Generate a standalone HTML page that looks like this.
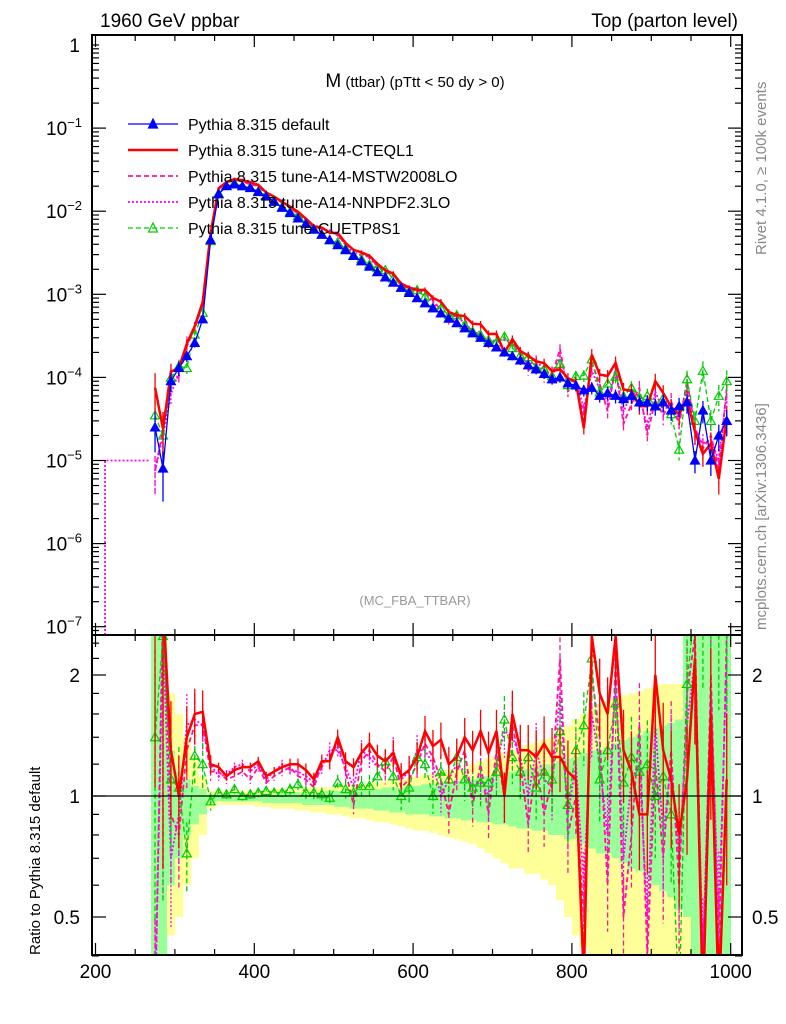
<!DOCTYPE html>
<html><head><meta charset="utf-8">
<style>
html,body{margin:0;padding:0;background:#fff;overflow:hidden;width:786px;height:1024px;}
svg{display:block;}
svg text{font-family:"Liberation Sans",sans-serif;}
</style></head>
<body>
<svg id="c" width="786" height="1024" xmlns="http://www.w3.org/2000/svg">
<defs>
<clipPath id="cm"><rect x="92" y="35" width="650" height="600"/></clipPath>
<clipPath id="cr"><rect x="92" y="636" width="650" height="319"/></clipPath>
</defs>
<g id="bands" clip-path="url(#cr)"></g>
<g id="main" clip-path="url(#cm)"></g>
<g id="ratio" clip-path="url(#cr)"></g>
<g id="axes"></g>
<text x="100" y="27" font-size="19">1960 GeV ppbar</text>
<text x="738" y="27" font-size="19" text-anchor="end">Top (parton level)</text>
<text x="415" y="87" font-size="19" text-anchor="middle">M<tspan font-size="15"> (ttbar) (pTtt &lt; 50 dy &gt; 0)</tspan></text>
<text x="415" y="605" font-size="13" fill="#999" text-anchor="middle">(MC_FBA_TTBAR)</text>
<text transform="translate(766,255) rotate(-90)" font-size="15" fill="#888">Rivet 4.1.0, ≥ 100k events</text>
<text transform="translate(766,630) rotate(-90)" font-size="15" fill="#888">mcplots.cern.ch [arXiv:1306.3436]</text>
<text transform="translate(40,955) rotate(-90)" font-size="15">Ratio to Pythia 8.315 default</text>
<g id="legend"></g>
</svg>
<script>
const bins=[275,285,295,305,315,325,335,345,355,365,375,385,395,405,415,425,435,445,455,465,475,485,495,505,515,525,535,545,555,565,575,585,595,605,615,625,635,645,655,665,675,685,695,705,715,725,735,745,755,765,775,785,795,805,815,825,835,845,855,865,875,885,895,905,915,925,935,945,955,965,975,985,995];
const defaultVals=[2.5e-5,8e-6,9e-5,1.3e-4,1.8e-4,2.6e-4,5e-4,4.5e-3,1.6e-2,2.0e-2,2.1e-2,2.0e-2,1.9e-2,1.7e-2,1.5e-2,1.3e-2,1.1e-2,9.5e-3,8.2e-3,7e-3,6e-3,5.2e-3,4.5e-3,3.9e-3,3.4e-3,2.9e-3,2.5e-3,2.15e-3,1.85e-3,1.6e-3,1.38e-3,1.2e-3,1.04e-3,9e-4,7.8e-4,6.8e-4,5.9e-4,5.1e-4,4.5e-4,3.9e-4,3.4e-4,3.0e-4,2.6e-4,2.3e-4,2.0e-4,1.8e-4,1.6e-4,1.4e-4,1.25e-4,1.1e-4,9.5e-5,1.0e-4,8.5e-5,8e-5,7e-5,7.5e-5,6e-5,6.5e-5,6e-5,5.5e-5,6e-5,5e-5,5e-5,4.5e-5,5e-5,4e-5,4.5e-5,5e-5,1e-5,4e-5,1e-5,2e-5,3e-5];
const ratioRed=[3,3,1.3,1.0,1.4,1.6,1.62,1.2,1.18,1.12,1.16,1.18,1.18,1.22,1.12,1.15,1.18,1.2,1.2,1.16,1.1,1.22,1.22,1.4,1.22,1.18,1.28,1.35,1.26,1.22,1.28,1.12,1.16,1.25,1.45,1.33,1.38,1.2,1.25,1.4,1.3,1.45,1.28,1.45,1.0,1.6,1.3,1.3,1.25,1.35,1.25,1.25,1.15,1.1,0.35,2.5,1.8,1.6,2.5,1.3,1.15,0.9,0.9,2.0,1.3,1.1,0.8,1.1,2.2,0.3,1.6,0.3,1.1];
const ratioMstw=[0.3,3,0.9,0.8,1.3,1.5,1.5,1.15,1.15,1.1,1.12,1.15,1.1,1.18,1.08,1.12,1.15,1.18,1.12,1.1,1.05,1.2,1.25,1.35,1.15,0.95,1.22,1.3,1.2,1.15,1.25,1.05,1.1,1.2,1.35,1.25,1.1,0.9,1.15,1.3,0.95,1.2,0.9,1.3,1.0,1.5,1.2,0.85,1.2,0.9,1.1,2.2,0.8,1.0,0.5,2.0,1.4,0.6,2.2,0.5,0.8,1.5,0.4,1.2,0.7,1.3,0.6,1.8,2.5,0.35,2.0,0.4,2.5];
const ratioNnpdf=[0.3,2.5,0.7,0.9,1.5,1.55,1.5,1.2,1.12,1.13,1.18,1.2,1.15,1.2,1.1,1.15,1.2,1.16,1.15,1.12,1.08,1.18,1.3,1.3,1.18,1.05,1.3,1.25,1.18,1.2,1.3,1.1,1.15,1.3,1.3,1.2,1.0,1.1,1.2,1.15,1.05,1.1,1.0,1.2,1.45,1.4,1.25,1.0,1.3,1.1,1.05,1.8,0.9,1.2,0.6,1.6,1.2,0.8,2.0,0.7,1.1,1.2,0.5,1.5,0.8,1.2,0.7,1.5,2.2,0.4,1.8,0.5,2.2];
const ratioGreen=[1.4,2.5,1.1,1.05,0.72,1.26,1.2,0.97,1.02,1.01,1.04,1.0,1.01,1.02,1.03,1.02,1.02,1.04,1.07,1.02,1.02,1.01,0.99,1.08,1.04,1.02,1.06,1.06,1.12,1.22,1.12,1.0,1.05,1.25,1.2,1.0,1.15,1.1,1.25,1.1,1.05,1.08,1.08,1.15,1.55,1.25,1.15,1.25,1.05,1.15,1.1,1.45,0.95,1.3,1.5,2.2,1.1,1.3,1.7,1.08,1.25,1.15,1.2,1.0,1.12,0.9,0.3,1.9,3,3,3,3,3];
const relErr=[0.5,0.6,0.25,0.2,0.15,0.12,0.1,0.04,0.02,0.02,0.02,0.02,0.02,0.02,0.02,0.02,0.02,0.025,0.025,0.03,0.03,0.03,0.035,0.035,0.04,0.04,0.045,0.05,0.05,0.055,0.06,0.06,0.065,0.07,0.07,0.075,0.08,0.08,0.085,0.09,0.09,0.1,0.1,0.1,0.11,0.11,0.12,0.12,0.13,0.13,0.14,0.14,0.15,0.15,0.16,0.17,0.17,0.18,0.19,0.2,0.2,0.21,0.22,0.23,0.24,0.25,0.26,0.27,0.3,0.3,0.35,0.35,0.35];
const greenLo=[0.3,0.3,0.6,0.7,0.8,0.85,0.9,0.96,0.97,0.97,0.97,0.97,0.97,0.97,0.96,0.96,0.96,0.96,0.96,0.95,0.95,0.95,0.95,0.94,0.94,0.93,0.93,0.93,0.92,0.92,0.91,0.91,0.9,0.9,0.9,0.89,0.89,0.88,0.88,0.87,0.87,0.86,0.86,0.85,0.85,0.84,0.83,0.83,0.82,0.82,0.8,0.8,0.78,0.78,0.76,0.74,0.72,0.72,0.7,0.68,0.66,0.65,0.62,0.6,0.58,0.56,0.52,0.5,0.3,0.3,0.3,0.3,0.3];
const greenHi=[2.6,2.6,1.3,1.15,1.1,1.06,1.04,1.01,1.01,1.01,1.01,1.01,1.01,1.01,1.01,1.01,1.02,1.02,1.02,1.02,1.02,1.02,1.03,1.03,1.03,1.03,1.04,1.04,1.04,1.05,1.05,1.05,1.06,1.06,1.07,1.07,1.08,1.08,1.09,1.1,1.1,1.12,1.12,1.13,1.14,1.15,1.16,1.17,1.18,1.2,1.2,1.22,1.24,1.25,1.28,1.3,1.3,1.32,1.35,1.38,1.4,1.42,1.45,1.48,1.5,1.52,1.55,2.6,2.6,2.6,2.6,2.6,2.6];
const yellowLo=[0.3,0.3,0.45,0.5,0.6,0.7,0.8,0.93,0.95,0.95,0.95,0.95,0.95,0.94,0.94,0.93,0.93,0.93,0.92,0.92,0.91,0.91,0.9,0.9,0.89,0.88,0.88,0.87,0.86,0.86,0.85,0.84,0.83,0.82,0.82,0.81,0.8,0.79,0.78,0.77,0.76,0.74,0.72,0.7,0.68,0.66,0.66,0.64,0.64,0.62,0.6,0.55,0.5,0.45,0.42,0.4,0.38,0.36,0.34,0.32,0.3,0.3,0.3,0.3,0.3,0.3,0.3,0.3,0.3,0.3,0.3,0.3,0.3];
const yellowHi=[2.6,2.6,1.8,1.6,1.4,1.25,1.12,1.03,1.03,1.03,1.03,1.03,1.03,1.03,1.03,1.04,1.04,1.04,1.04,1.05,1.05,1.05,1.05,1.06,1.06,1.07,1.07,1.08,1.08,1.09,1.1,1.1,1.11,1.12,1.13,1.14,1.15,1.16,1.17,1.18,1.2,1.22,1.24,1.26,1.28,1.3,1.32,1.34,1.36,1.38,1.4,1.45,1.5,1.55,1.6,1.65,1.7,1.72,1.75,1.78,1.8,1.82,1.85,1.88,1.9,1.9,1.9,2.6,2.6,2.6,2.6,2.6,2.6];
const nnpdfExtraX=[212,268];
const nnpdfExtraV=[1e-5,1e-5];
const xTicks=[200,400,600,800,1000];
const yTickExp=[0,-1,-2,-3,-4,-5,-6,-7];
const ratioTicks=[2,1,0.5];

const NS='http://www.w3.org/2000/svg';
const X=v=>95.5+(v-200)*0.794;
const Y=v=>45-Math.log10(v)*83.1;
const R=r=>796-Math.log2(r)*121;
function el(tag,attrs,parent){const e=document.createElementNS(NS,tag);for(const k in attrs)e.setAttribute(k,attrs[k]);parent.appendChild(e);return e;}
const gB=document.getElementById('bands'),gM=document.getElementById('main'),gR=document.getElementById('ratio'),gA=document.getElementById('axes'),gL=document.getElementById('legend');

bins.forEach((b,i)=>{
  const x0=X(b-5),w=X(b+5)-X(b-5);
  const y1=R(yellowHi[i]),y2=R(yellowLo[i]);
  const r1=el('rect',{x:x0,y:y1,width:w+0.3,height:y2-y1,fill:'#ffff99'},gB);
  
  
  const g1=R(greenHi[i]),g2=R(greenLo[i]);
  const r2=el('rect',{x:x0,y:g1,width:w+0.3,height:g2-g1,fill:'#99ff99'},gB);
  
  
});

const series=[
 {name:'mstw',ratio:ratioMstw,color:'#ff1493',w:1.8,dash:'5,3',marker:null},
 {name:'nnpdf',ratio:ratioNnpdf,color:'#ff00ff',w:1.8,dash:'2,2',marker:null},
 {name:'green',ratio:ratioGreen,color:'#00cc00',w:1.3,dash:'5,3',marker:'open'},
 {name:'red',ratio:ratioRed,color:'#ff0000',w:2.5,dash:null,marker:null},
 {name:'default',ratio:bins.map(()=>1),color:'#0000ff',w:1.3,dash:null,marker:'filled',main:true}
];
function drawSeries(s,g,fy,isRatio){
  const vals=bins.map((b,i)=>isRatio?s.ratio[i]:defaultVals[i]*s.ratio[i]);
  let d='';
  vals.forEach((v,i)=>{d+=(i?'L':'M')+X(bins[i]).toFixed(1)+','+fy(v).toFixed(1);});
  const p=el('path',{d:d,fill:'none',stroke:s.color,'stroke-width':s.w},g);
  if(s.dash)p.setAttribute('stroke-dasharray',s.dash);
  
  
  vals.forEach((v,i)=>{
    if(isRatio&&s.main)return;
    const e=relErr[i]*(isRatio?1.3:1);
    const xx=X(bins[i]);
    const l=el('line',{x1:xx,x2:xx,y1:fy(v*(1+e)),y2:fy(Math.max(v*(1-e),1e-9)),stroke:s.color,'stroke-width':1.3},g);
    if(s.dash)l.setAttribute('stroke-dasharray',s.dash);
    
    
    if(s.marker){
      const y=fy(v);
      const t=el('path',{d:`M${xx-4.5},${y+3.5}L${xx},${y-4.5}L${xx+4.5},${y+3.5}Z`,fill:s.marker==='filled'?s.color:'none',stroke:s.color,'stroke-width':1.2},g);
      
      
    }
  });
}
{
 const p=el('path',{d:`M${X(nnpdfExtraX[0])},635L${X(nnpdfExtraX[0])},${Y(nnpdfExtraV[0])}L${X(nnpdfExtraX[1])},${Y(nnpdfExtraV[1])}`,fill:'none',stroke:'#ff00ff','stroke-width':1.8,'stroke-dasharray':'2,2'},gM);
 
 
}
series.forEach(s=>{drawSeries(s,gM,Y,false);});
series.forEach(s=>{if(!s.main)drawSeries(s,gR,R,true);});
{const l=el('line',{x1:92,x2:742,y1:R(1),y2:R(1),stroke:'#000','stroke-width':1.2},gR);
}

[[92,35,650,600],[92,635,650,320]].forEach((f,i)=>{
 const r=el('rect',{x:f[0],y:f[1],width:f[2],height:f[3],fill:'none',stroke:'#000','stroke-width':2},gA);
 
});
for(let v=200;v<=1000;v+=50){
 const big=v%200===0,len=big?12:6,xx=X(v);
 [[635,635-len],[35,35+len],[955,955-len],[635,635+len]].forEach(a=>{
  const t=el('line',{x1:xx,x2:xx,y1:a[0],y2:a[1],stroke:'#000','stroke-width':1.2},gA);
  });
}
xTicks.forEach(v=>{const t=el('text',{x:X(v),y:978,'font-size':19,'text-anchor':'middle'},gA);t.textContent=v;
 });
for(let e=0;e>=-7;e--){
 for(let m=1;m<10;m++){
  const v=m*Math.pow(10,e-1);const yy=Y(v);if(yy>635||yy<35)continue;
  const len=m===1?14:7;
  [[92,92+len],[742,742-len]].forEach(a=>{const t=el('line',{x1:a[0],x2:a[1],y1:yy,y2:yy,stroke:'#000','stroke-width':1.2},gA);
   });
 }
}
[1,2,3,4,5,6,7,8,9].forEach(m=>{const yy=Y(m);if(yy<35)return;[[92,99],[742,735]].forEach(a=>{const t=el('line',{x1:a[0],x2:a[1],y1:yy,y2:yy,stroke:'#000','stroke-width':1.2},gA);});});
yTickExp.forEach(e=>{
 const t=el('text',{x:e===0?80:82,y:Y(Math.pow(10,e))+7,'font-size':19,'text-anchor':'end'},gA);
 if(e===0)t.textContent='1';else{t.textContent='10';const s=el('tspan',{dy:-8,'font-size':13},t);s.textContent=String(e).replace('-','−');}
 
});
[0.4,0.5,0.6,0.7,0.8,0.9,1,1.2,1.4,1.6,1.8,2,2.2,2.4].forEach(v=>{const yy=R(v);const big=(v===0.5||v===1||v===2);
 [[92,92+(big?14:7)],[742,742-(big?14:7)]].forEach(a=>{const t=el('line',{x1:a[0],x2:a[1],y1:yy,y2:yy,stroke:'#000','stroke-width':1.2},gA);});});
ratioTicks.forEach(v=>{[[80,'end'],[752,'start']].forEach(a=>{const t=el('text',{x:a[0],y:R(v)+7,'font-size':19,'text-anchor':a[1]},gA);t.textContent=v;});});

const leg=[['Pythia 8.315 default','#0000ff',1.3,null,'filled'],['Pythia 8.315 tune-A14-CTEQL1','#ff0000',2.5,null,null],['Pythia 8.315 tune-A14-MSTW2008LO','#ff1493',1.8,'5,3',null],['Pythia 8.315 tune-A14-NNPDF2.3LO','#ff00ff',1.8,'2,2',null],['Pythia 8.315 tune-CUETP8S1','#00cc00',1.3,'5,3','open']];
leg.forEach((L,i)=>{const y=124+i*26;
 const l=el('line',{x1:128,x2:178,y1:y,y2:y,stroke:L[1],'stroke-width':L[2]},gL);if(L[3])l.setAttribute('stroke-dasharray',L[3]);
 
 if(L[4]){const t=el('path',{d:`M148.5,${y+4}L153,${y-5}L157.5,${y+4}Z`,fill:L[4]==='filled'?L[1]:'none',stroke:L[1],'stroke-width':1.2},gL);}
 const tx=el('text',{x:188,y:y+6,'font-size':16},gL);tx.textContent=L[0];
 
});
</script>
</body></html>
